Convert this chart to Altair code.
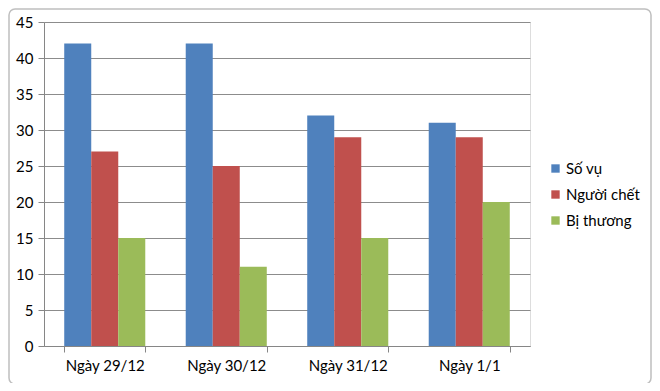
import altair as alt
import pandas as pd

categories = ["Ngày 29/12", "Ngày 30/12", "Ngày 31/12", "Ngày 1/1"]
series = ["Số vụ", "Người chết", "Bị thương"]
so_vu = [42, 42, 32, 31]
nguoi_chet = [27, 25, 29, 29]
bi_thuong = [15, 11, 15, 20]
colors = ["#4F81BD", "#C0504D", "#9BBB59"]
y_ticks = [0, 5, 10, 15, 20, 25, 30, 35, 40, 45]

rows = []
for i, c in enumerate(categories):
    for s, vals in zip(series, [so_vu, nguoi_chet, bi_thuong]):
        rows.append({"Ngày": c, "Loại": s, "Giá trị": vals[i]})
df = pd.DataFrame(rows)

FONT = "Lato"

bars = alt.Chart(df).mark_bar().encode(
    x=alt.X("Ngày:N", sort=categories, title=None,
            scale=alt.Scale(paddingInner=0.333, paddingOuter=0.1665),
            axis=alt.Axis(labelAngle=0, labelFontSize=15, labelFont=FONT, labelColor="#000",
                          domainColor="#868686", tickColor="#868686", tickSize=6,
                          tickBand="extent", labelPadding=6)),
    xOffset=alt.XOffset("Loại:N", sort=series, scale=alt.Scale(paddingInner=0, paddingOuter=0)),
    y=alt.Y("Giá trị:Q", title=None,
            scale=alt.Scale(domain=[0, 45], nice=False),
            axis=alt.Axis(values=y_ticks, labelFontSize=15, labelFont=FONT, labelColor="#000",
                          domainColor="#868686", tickColor="#868686", tickSize=6,
                          gridColor="#8C8C8C", labelPadding=5)),
    color=alt.Color("Loại:N", sort=series,
                    scale=alt.Scale(domain=series, range=colors),
                    legend=alt.Legend(title=None, orient="none", legendX=504, legendY=139,
                                      symbolType="square", symbolSize=70, symbolStrokeWidth=0,
                                      labelFontSize=15, labelFont=FONT, labelColor="#000",
                                      rowPadding=10, labelOffset=3)),
)

frame = alt.Chart(pd.DataFrame({"a": [0]})).mark_rect(
    fill=None, stroke="#BFBFBF", strokeWidth=1.5, cornerRadius=6
).encode(x=alt.value(-35), x2=alt.value(607), y=alt.value(-13), y2=alt.value(362))

chart = alt.layer(frame, bars).properties(
    width=486, height=324,
    autosize=alt.AutoSizeParams(type="none"),
    padding={"left": 36, "top": 14, "right": 122, "bottom": 37},
).configure_view(stroke=None).configure(background="white")

chart.save("out.html", embed_options={"renderer": "svg", "actions": False})
